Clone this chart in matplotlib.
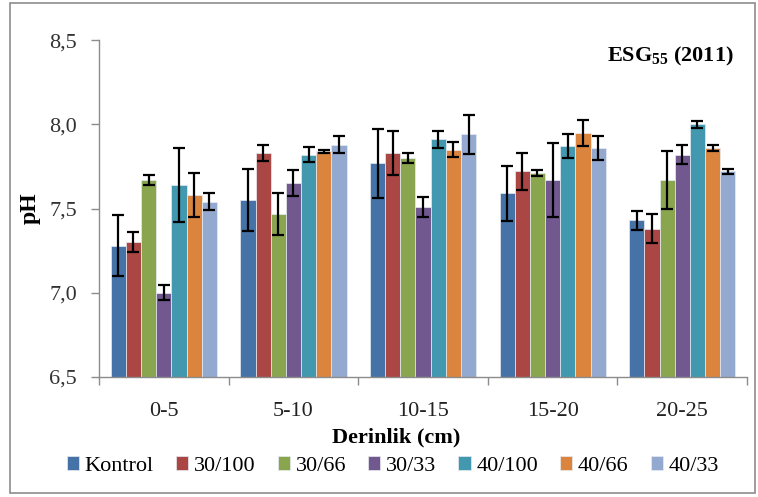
import numpy as np
import matplotlib
matplotlib.use("Agg")
import matplotlib.pyplot as plt
from matplotlib.patches import Rectangle, FancyBboxPatch

plt.rcParams['font.family'] = ['Liberation Serif', 'DejaVu Serif']
plt.rcParams['mathtext.fontset'] = 'custom'
plt.rcParams['mathtext.rm'] = 'Liberation Serif:bold'
plt.rcParams['mathtext.bf'] = 'Liberation Serif:bold'

# depth classes and treatments
depths = ['0-5', '5-10', '10-15', '15-20', '20-25']
treatments = ['Kontrol', '30/100', '30/66', '30/33', '40/100', '40/66', '40/33']
colors = ['#4572A7', '#AA4643', '#89A54E', '#71588F', '#4198AF', '#DB843D', '#93A9CF']

# mean pH per treatment (rows) for each depth (columns)
ph_mean = [
    [7.28, 7.55, 7.77, 7.59, 7.43],  # Kontrol
    [7.30, 7.83, 7.83, 7.72, 7.38],  # 30/100
    [7.67, 7.47, 7.80, 7.71, 7.67],  # 30/66
    [7.00, 7.65, 7.51, 7.67, 7.82],  # 30/33
    [7.64, 7.82, 7.91, 7.87, 8.00],  # 40/100
    [7.58, 7.84, 7.85, 7.95, 7.86],  # 40/66
    [7.54, 7.88, 7.94, 7.86, 7.72],  # 40/33
]
# standard errors
ph_err = [
    [0.18, 0.185, 0.205, 0.165, 0.058],
    [0.058, 0.05, 0.133, 0.107, 0.085],
    [0.028, 0.125, 0.029, 0.016, 0.172],
    [0.045, 0.078, 0.058, 0.22, 0.058],
    [0.218, 0.045, 0.048, 0.071, 0.022],
    [0.128, 0.01, 0.042, 0.077, 0.016],
    [0.05, 0.052, 0.117, 0.072, 0.015],
]

fig = plt.figure(figsize=(7.58, 4.97), dpi=100)
ax = fig.add_axes([0.1306, 0.2414, 0.855, 0.678])

# outer chart border
fig.patches.append(FancyBboxPatch((10 / 758, 4 / 497), 745 / 758, 490 / 497,
                                  boxstyle='square,pad=0', transform=fig.transFigure,
                                  fill=False, edgecolor='#8c8c8c', linewidth=1.2))

x = np.arange(len(depths)) + 0.5
width = 0.117
for i, (name, c) in enumerate(zip(treatments, colors)):
    pos = x + (i - 3) * width
    ax.bar(pos, ph_mean[i], width, bottom=0, color=c, edgecolor='#e8ecf2',
           linewidth=0.5, label=name, zorder=2)
    ax.errorbar(pos, ph_mean[i], yerr=ph_err[i], fmt='none', ecolor='black',
                elinewidth=1.6, capsize=4.5, capthick=1.6, zorder=3)

ax.set_xlim(0, 5)
ax.set_ylim(6.5, 8.5)
yt = [6.5, 7.0, 7.5, 8.0, 8.5]
ax.set_yticks(yt)
ax.set_yticklabels([f'{v:.1f}'.replace('.', ',') for v in yt])

# ticks at group boundaries, labels at group centres
ax.set_xticks(np.arange(0, 6))
ax.set_xticklabels([''] * 6)
ax.set_xticks(x, minor=True)
ax.set_xticklabels(depths, minor=True)
ax.tick_params(axis='x', which='minor', length=0, pad=18, labelsize=16, labelcolor='#222222')
ax.tick_params(axis='x', which='major', length=6, color='#8c8c8c', width=1)
ax.tick_params(axis='y', length=6, pad=10, color='#8c8c8c', width=1,
               labelsize=16, labelcolor='#333333')

for s in ['top', 'right']:
    ax.spines[s].set_visible(False)
for s in ['left', 'bottom']:
    ax.spines[s].set_color('#8c8c8c')
    ax.spines[s].set_linewidth(1)

fig.text(30 / 758, 1 - 208 / 497, 'pH', rotation=90, fontsize=17, fontweight='bold',
         ha='center', va='center')
fig.text(396 / 758, 1 - 437 / 497, 'Derinlik (cm)', fontsize=16, fontweight='bold',
         ha='center', va='center')
ax.text(0.98, 0.95, r'$\mathbf{ESG_{55}}$ (2011)', transform=ax.transAxes,
        fontsize=16, fontweight='bold', ha='right', va='center')

fig.legend(loc='center', bbox_to_anchor=(393 / 758, 1 - 466 / 497), ncol=7,
           frameon=False, fontsize=16, handlelength=0.55, handleheight=0.55,
           handletextpad=0.25, columnspacing=1.0, borderpad=0)

fig.savefig('out.png', dpi=100)
